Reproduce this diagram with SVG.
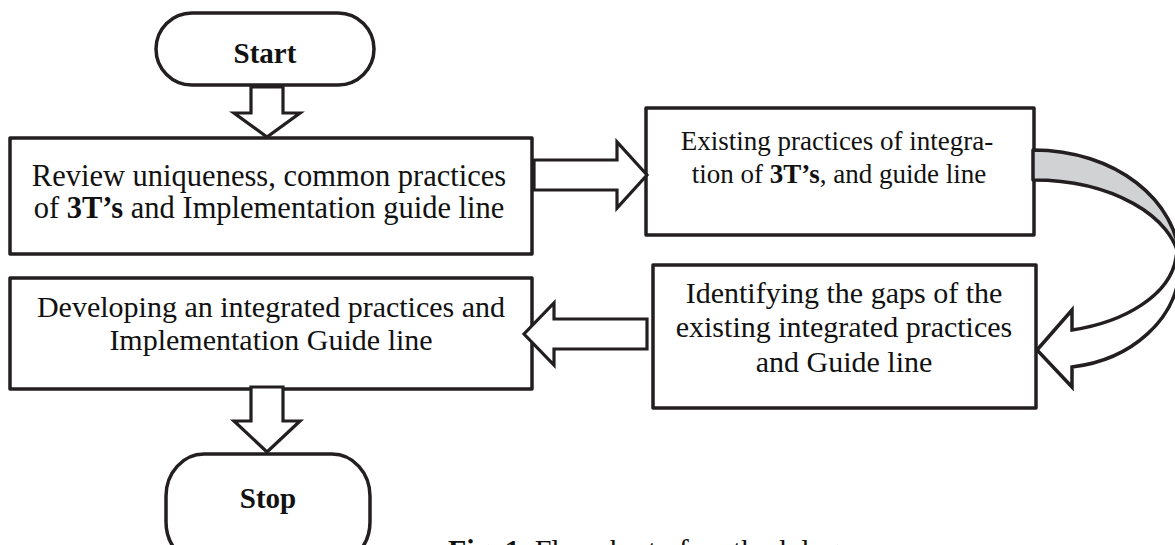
<svg xmlns="http://www.w3.org/2000/svg" width="1175" height="545" viewBox="0 0 1175 545">
<style>
.box{fill:#fff;stroke:#231f20;stroke-width:3.5;stroke-linejoin:round}
.arr{fill:#fff;stroke:#231f20;stroke-width:3.2;stroke-linejoin:miter}
.t{font-family:"Liberation Serif","Times New Roman",serif;fill:#111;text-anchor:middle}
.b{font-weight:bold}
</style>
<rect width="1175" height="545" fill="#fff"/>
<g id="start">
<rect class="box" x="156" y="13" width="218" height="72" rx="36" ry="36"/>
<text class="t b" x="265" y="63" font-size="29">Start</text>
</g>
<g id="review">
<rect class="box" x="10" y="138" width="522" height="116"/>
<text class="t" x="269" y="186" font-size="30.5">Review uniqueness, common practices</text>
<text class="t" x="269" y="218" font-size="30.5">of <tspan class="b">3T’s</tspan> and Implementation guide line</text>
</g>
<g id="existing">
<rect class="box" x="646" y="108" width="388" height="127"/>
<text class="t" x="837" y="150" font-size="27">Existing practices of integra-</text>
<text class="t" x="839" y="183" font-size="27">tion of <tspan class="b">3T’s</tspan>, and guide line</text>
</g>
<g id="gaps">
<rect class="box" x="653" y="265" width="383" height="143"/>
<text class="t" x="844" y="303" font-size="30">Identifying the gaps of the</text>
<text class="t" x="844" y="337" font-size="30">existing integrated practices</text>
<text class="t" x="844" y="372" font-size="30">and Guide line</text>
</g>
<g id="develop">
<rect class="box" x="10" y="278" width="522" height="111"/>
<text class="t" x="271" y="317" font-size="30">Developing an integrated practices and</text>
<text class="t" x="271" y="350" font-size="30">Implementation Guide line</text>
</g>
<g id="stop">
<rect class="box" x="166" y="454" width="204" height="110" rx="38" ry="42"/>
<text class="t b" x="268" y="508" font-size="29">Stop</text>
</g>
<g id="connectors">
<polygon class="arr" points="251,87 251,113 234,113 267,137 300,113 283,113 283,87"/>
<polygon class="arr" points="534,160 617,160 617,142 647,175 617,208 617,190 534,190"/>
<path d="M1033,150 C1115,150 1178,200 1180,262 C1174,215 1110,180 1033,180 Z" fill="#d1d2d4" stroke="#231f20" stroke-width="3.5" stroke-linejoin="round"/>
<path d="M1180,262 C1180,320 1130,360 1072,367 L1072,387 L1037,350 L1072,310 L1072,330 C1125,322 1170,295 1176,258 Z" fill="#fff" stroke="#231f20" stroke-width="3.5" stroke-linejoin="miter"/>
<polygon class="arr" points="647,319 554,319 554,303 524,334 554,365 554,349 647,349"/>
<polygon class="arr" points="251,387 251,421 234,421 267,452 300,421 283,421 283,387"/>
</g>
<text class="t" x="448" y="560" font-size="30" style="text-anchor:start"><tspan class="b">Fig. 1.</tspan> Flowchart of methodology</text>
</svg>
